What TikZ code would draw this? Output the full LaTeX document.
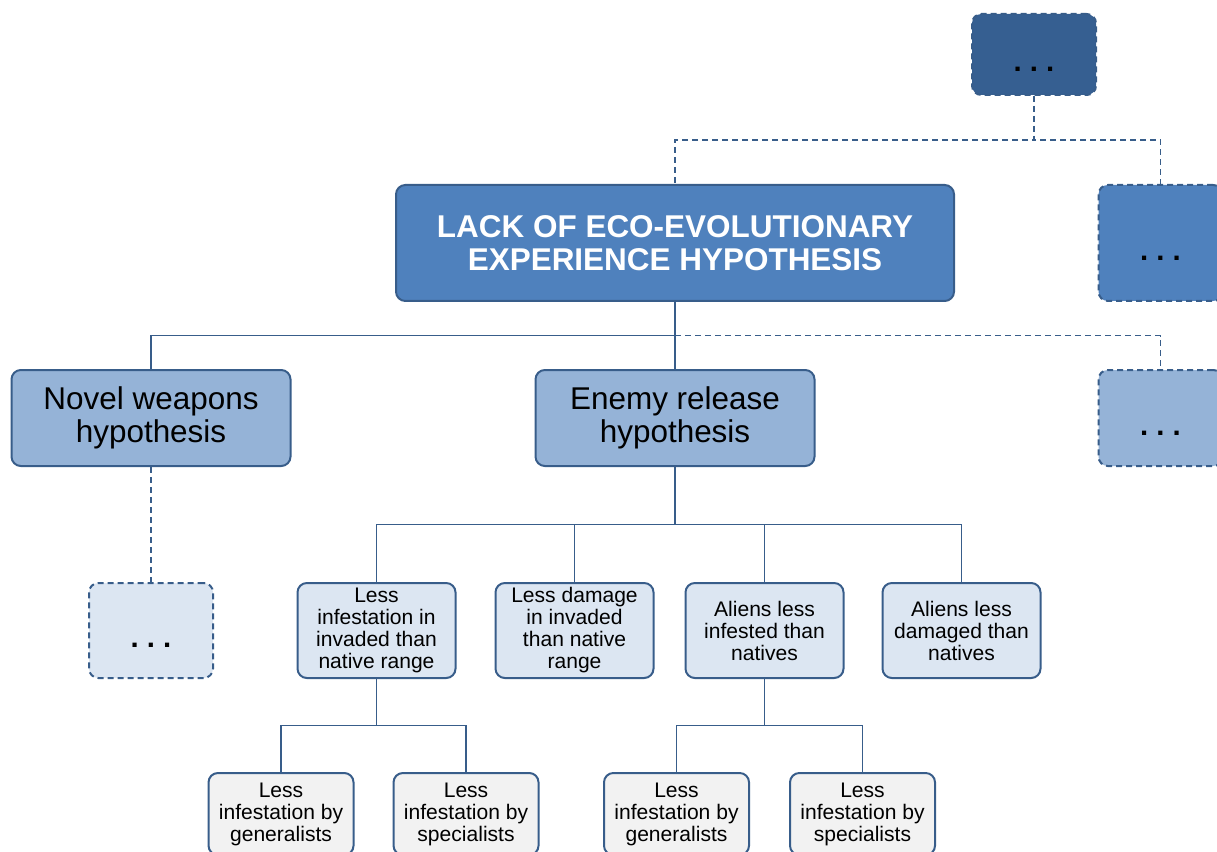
\documentclass[tikz,border=0pt]{standalone}
\usepackage{fontspec}
\setmainfont{Liberation Sans}
\usepackage{xcolor}
\usepackage{tikz}
\usetikzlibrary{positioning, calc}

\definecolor{edgeblue}{HTML}{385D8A}
\definecolor{darkblue}{HTML}{365F91}
\definecolor{midblue}{HTML}{4F81BD}
\definecolor{softblue}{HTML}{95B3D7}
\definecolor{paleblue}{HTML}{DCE6F2}
\definecolor{palegray}{HTML}{F2F2F2}

\begin{document}
\begin{tikzpicture}[
    x=0.75pt, y=-0.75pt,
    box/.style={draw=edgeblue, line width=1.5pt, rounded corners=7pt, align=center, inner sep=2pt},
    open/.style={dash pattern=on 4.5pt off 3pt},
    root/.style={box, fill=midblue, text=white, minimum width=418.5pt, minimum height=87pt, font=\fontsize{23.6pt}{24.75pt}\selectfont\bfseries},
    hypo/.style={box, fill=softblue, minimum width=209.25pt, minimum height=72pt, font=\fontsize{23.6pt}{24.75pt}\selectfont},
    effect/.style={box, fill=paleblue, minimum width=118.5pt, minimum height=71.25pt, font=\fontsize{15.8pt}{16.5pt}\selectfont},
    leaf/.style={box, fill=palegray, minimum width=108.75pt, minimum height=61.5pt, font=\fontsize{15.8pt}{16.5pt}\selectfont},
    more/.style={box, open, minimum width=93pt, text height=26pt, text depth=0pt, font=\fontsize{22pt}{24.75pt}\selectfont\bfseries},
    link/.style={draw=edgeblue, line width=1.3pt}
]
    \useasboundingbox (0,0) rectangle (1217,852);
    \clip (0,0) rectangle (1217,852);

    \node[root] (lack) at (675,243) {LACK OF ECO-EVOLUTIONARY\\EXPERIENCE HYPOTHESIS};

    \node[hypo, below=50.25pt of lack] (enemy) {Enemy release\\hypothesis};
    \node[hypo, left=182.25pt of enemy] (weapons) {Novel weapons\\hypothesis};
    \node[more, fill=softblue, minimum height=72pt, right=211.5pt of enemy] (morehypo) {.\ .\ .};
    \node[more, fill=midblue, minimum height=87pt, above=50.25pt of morehypo] (moreside) {.\ .\ .};
    \node[more, fill=darkblue, minimum height=60.75pt, above right=66pt and 12pt of lack] (moretop) {.\ .\ .};
    \node[more, fill=paleblue, minimum height=71.25pt, below=86.25pt of weapons] (moreweapons) {.\ .\ .};

    \node[effect, below left=86.25pt and 58.5pt of enemy] (lessinf) {Less\\infestation in\\invaded than\\native range};
    \node[effect, right=28.5pt of lessinf] (lessdmg) {Less damage\\in invaded\\than native\\range};
    \node[effect, right=22.5pt of lessdmg] (aliensinf) {Aliens less\\infested than\\natives};
    \node[effect, right=27.75pt of aliensinf] (aliensdmg) {Aliens less\\damaged than\\natives};

    \node[leaf, below=69.75pt of lessinf, xshift=-71.6pt] (gen1) {Less\\infestation by\\generalists};
    \node[leaf, right=28.5pt of gen1] (spec1) {Less\\infestation by\\specialists};
    \node[leaf, below=69.75pt of aliensinf, xshift=-66pt] (gen2) {Less\\infestation by\\generalists};
    \node[leaf, right=29.25pt of gen2] (spec2) {Less\\infestation by\\specialists};

    \draw[link, open] (moretop.south) -- ++(0,44) -| (lack.north);
    \draw[link, open] (moretop.south) -- ++(0,44) -| (moreside.north);
    \draw[link, open] (lack.south) ++(0,33.5) -| (morehypo.north);
    \draw[link] (lack.south) -- ++(0,33.5) -| (weapons.north);
    \draw[link] (lack.south) -- (enemy.north);
    \draw[link, open] (weapons.south) -- (moreweapons.north);

    \draw[link] (enemy.south) -- ++(0,57.5) -| (lessinf.north);
    \draw[link] (enemy.south) -- ++(0,57.5) -| (lessdmg.north);
    \draw[link] (enemy.south) -- ++(0,57.5) -| (aliensinf.north);
    \draw[link] (enemy.south) -- ++(0,57.5) -| (aliensdmg.north);

    \draw[link] (lessinf.south) -- ++(0,46.5) -| (gen1.north);
    \draw[link] (lessinf.south) -- ++(0,46.5) -| (spec1.north);
    \draw[link] (aliensinf.south) -- ++(0,46.5) -| (gen2.north);
    \draw[link] (aliensinf.south) -- ++(0,46.5) -| (spec2.north);
\end{tikzpicture}
\end{document}
